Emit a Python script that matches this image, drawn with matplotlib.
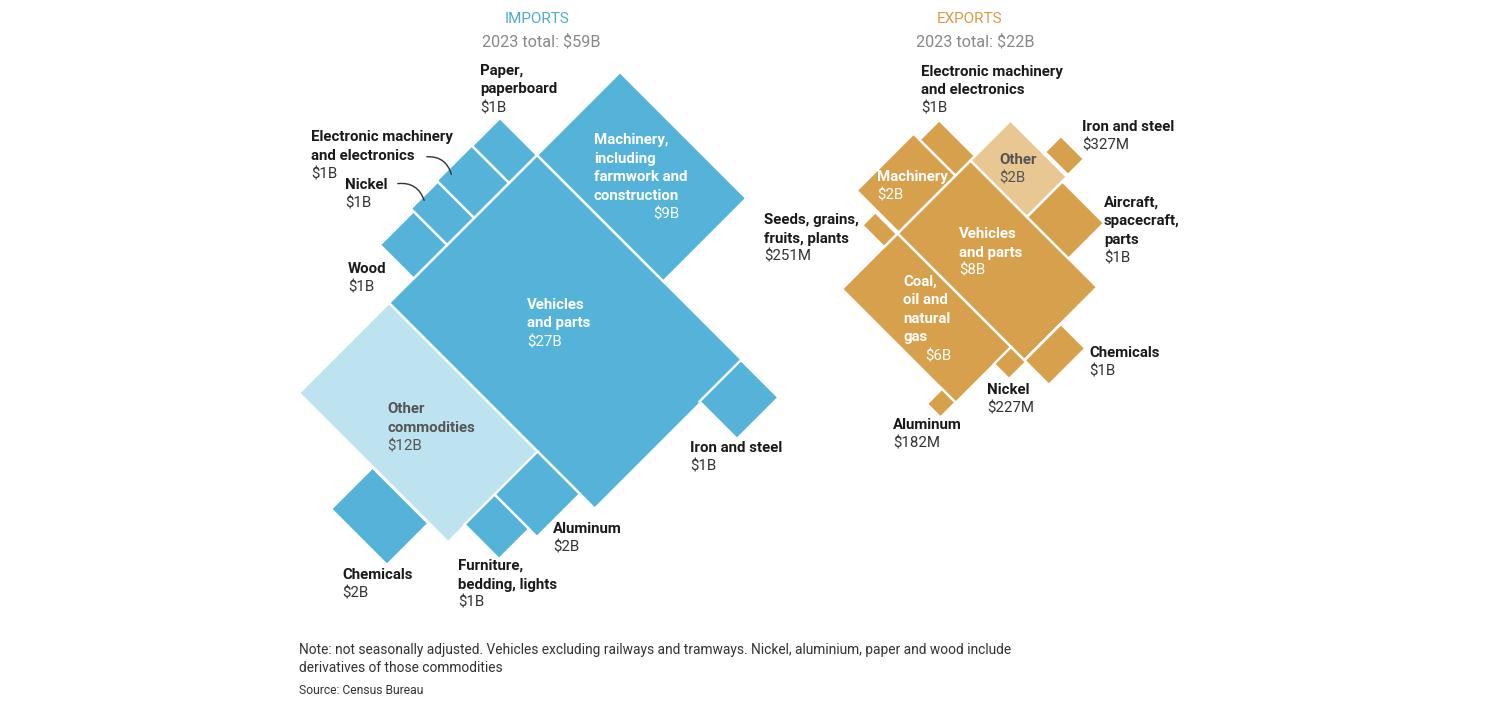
import matplotlib.pyplot as plt
from matplotlib.patches import Rectangle
from matplotlib.transforms import Affine2D

imp_names = ["Vehicles\nand parts", "Other\ncommodities",
             "Machinery,\nincluding\nfarmwork and\nconstruction",
             "Paper,\npaperboard", "Electronic machinery\nand electronics",
             "Nickel", "Wood", "Iron and steel", "Aluminum",
             "Furniture,\nbedding, lights", "Chemicals"]
imp_values = [27.0, 11.9, 9.3, 0.92, 1.16, 0.87, 1.0, 1.38, 1.62, 0.92, 2.06]
imp_labels = ["$27B", "$12B", "$9B", "$1B", "$1B", "$1B", "$1B", "$1B", "$2B", "$1B", "$2B"]

exp_names = ["Vehicles\nand parts", "Coal,\noil and\nnatural\ngas", "Machinery",
             "Electronic machinery\nand electronics", "Other", "Iron and steel",
             "Aircraft,\nspacecraft,\nparts", "Seeds, grains,\nfruits, plants",
             "Chemicals", "Nickel", "Aluminum"]
exp_values = [8.2, 5.6, 2.12, 0.62, 2.0, 0.327, 1.31, 0.251, 0.79, 0.227, 0.182]
exp_labels = ["$8B", "$6B", "$2B", "$1B", "$2B", "$327M", "$1B", "$251M", "$1B", "$227M", "$182M"]

imp_total = "$59B"
exp_total = "$22B"

# ---- layout: rotated frame (A = x+y, B = x-y in pixels) ----
K = 4510  # area units per $1B
# anchor along A, B range, grow direction
imp_anchor = [692, 692, 692, 692, 692, 692, 692, 1101, 989, 989, 840]
imp_b = [(86, 382), (-94, 86), (382, 548), (326, 382), (256, 326), (202, 256),
         (135, 202), (298, 381), (0, 86), (-60, 0), (-178, -95)]
imp_grow = [1, 1, 1, -1, -1, -1, -1, 1, 1, 1, 1]
imp_colors = ["#55b3da", "#bde2f0"] + ["#55b3da"] * 9

exp_anchor = [1131, 1131, 1131, 1131, 1131, 1243, 1244, 1131, 1385, 1358, 1358]
exp_b = [(664, 810), (553, 664), (666, 780), (780, 819), (810, 890), (893, 925),
         (810, 881), (637, 663), (664, 737), (630, 664), (523, 553)]
exp_grow = [1, 1, -1, -1, 1, -1, 1, -1, 1, 1, -1]
exp_colors = ["#d7a04c"] * 4 + ["#e9c792"] + ["#d7a04c"] * 6

# label positions (x, y of first line centre)
imp_lab = [(527, 305, "w"), (387, 409, "g"), (594, 140, "w"), (480, 71, "k"),
           (311, 137, "k"), (345, 185, "k"), (348, 269, "k"), (690, 448, "k"),
           (553, 529, "k"), (458, 566, "k"), (342, 575, "k")]
exp_lab = [(959, 234, "w"), (903, 282, "w"), (877, 177, "w"), (921, 72, "k"),
           (999, 160, "g"), (1082, 127, "k"), (1104, 203, "k"), (764, 220, "k"),
           (1089, 353, "k"), (987, 390, "k"), (893, 425, "k")]

plt.rcParams['font.family'] = ['Roboto', 'DejaVu Sans']

fig = plt.figure(figsize=(15, 7.03), dpi=100)
ax = fig.add_axes([0, 0, 1, 1])
ax.set_xlim(0, 1500)
ax.set_ylim(703, 0)
ax.axis('off')

rot = Affine2D.from_values(0.5, 0.5, 0.5, -0.5, 0, 0) + ax.transData

tcol = {"k": "#1a1a1a", "w": "white", "g": "#555555"}
vcol = {"k": "#333333", "w": "white", "g": "#555555"}
LH = 18.5
FS = 10.8


def draw_tiles(values, anchors, branges, grows, colors):
    for v, a, (b0, b1), g, c in zip(values, anchors, branges, grows, colors):
        la = v * K / (b1 - b0)
        a0 = a if g > 0 else a - la
        ax.add_patch(Rectangle((a0, b0), la, b1 - b0, transform=rot,
                               facecolor=c, edgecolor="white", linewidth=1.7,
                               joinstyle="miter"))


def draw_label(x, y, name, value, key, vx=None):
    lines = name.split("\n")
    for i, ln in enumerate(lines):
        ax.text(x, y + i * LH, ln, fontsize=FS, fontweight="bold",
                color=tcol[key], va="center", ha="left")
    if vx is None:
        ax.text(x, y + len(lines) * LH, value, fontsize=FS,
                color=vcol[key], va="center", ha="left")
    else:
        ax.text(vx, y + len(lines) * LH, value, fontsize=FS,
                color=vcol[key], va="center", ha="right")


draw_tiles(imp_values, imp_anchor, imp_b, imp_grow, imp_colors)
draw_tiles(exp_values, exp_anchor, exp_b, exp_grow, exp_colors)

for i, (x, y, k) in enumerate(imp_lab):
    draw_label(x, y, imp_names[i], imp_labels[i], k, vx=680 if i == 2 else None)
for i, (x, y, k) in enumerate(exp_lab):
    draw_label(x, y, exp_names[i], exp_labels[i], k, vx=952 if i == 1 else None)

# leader lines
for start, end in [((424, 157), (452, 177)), ((395, 184), (425, 203))]:
    ax.annotate("", xy=end, xytext=start,
                arrowprops=dict(arrowstyle="-", color="#333333", lw=1,
                                connectionstyle="arc3,rad=-0.45"))

# titles
ax.text(537, 19, "IMPORTS", fontsize=11, color="#4fa9d6", ha="center", va="center")
ax.text(541, 42, "2023 total: " + imp_total, fontsize=11.7, color="#888888",
        ha="center", va="center")
ax.text(970, 19, "EXPORTS", fontsize=11, color="#d99a45", ha="center", va="center")
ax.text(975, 42, "2023 total: " + exp_total, fontsize=11.7, color="#888888",
        ha="center", va="center")

# notes
ax.text(299, 650, "Note: not seasonally adjusted. Vehicles excluding railways and tramways. "
        "Nickel, aluminium, paper and wood include", fontsize=9.9, color="#333333",
        va="center")
ax.text(299, 668, "derivatives of those commodities", fontsize=9.9, color="#333333",
        va="center")
ax.text(299, 691, "Source: Census Bureau", fontsize=8.7, color="#333333",
        va="center")

fig.savefig("out.png", dpi=100)
